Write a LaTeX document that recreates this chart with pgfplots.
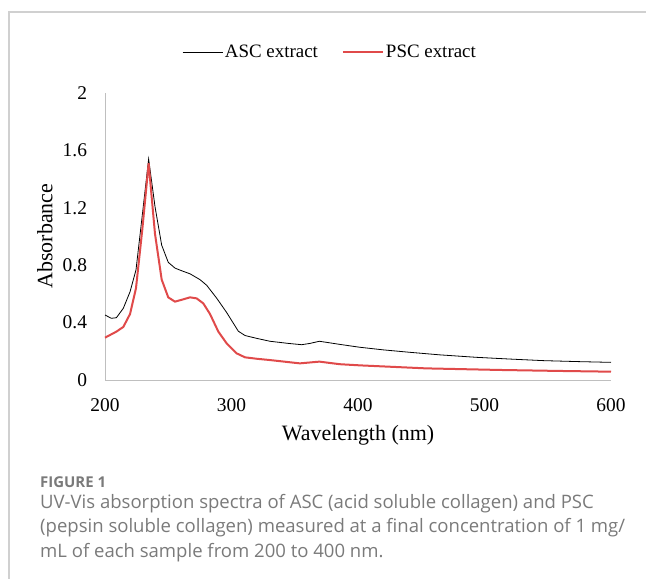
\documentclass[border=0pt]{standalone}
\usepackage{fontspec}
\setmainfont{Liberation Serif}
\newfontfamily\capfont{Open Sans}
\usepackage{pgfplots}
\pgfplotsset{compat=1.18}
\definecolor{pscred}{RGB}{224,74,74}
\definecolor{axgray}{RGB}{191,191,191}
\definecolor{framegray}{RGB}{208,208,208}
\definecolor{capgray}{RGB}{122,122,122}

\pgfplotstableread{
wl    A
200   0.453
205   0.430
209   0.434
214.5 0.500
219.8 0.615
224.5 0.767
229.5 1.150
234.5 1.540
239.5 1.210
244.8 0.940
250   0.820
255.3 0.780
261   0.760
267.2 0.740
275   0.700
280.4 0.660
288.3 0.570
296.2 0.470
305.4 0.340
310.7 0.310
320   0.290
330.4 0.270
345   0.255
355.5 0.246
362   0.255
369.5 0.270
385.8 0.248
401.6 0.228
420   0.210
441   0.193
465   0.175
493.8 0.158
520   0.146
546.5 0.135
575   0.128
600   0.123
}\asc

\pgfplotstableread{
wl    A
200   0.295
209   0.337
214.5 0.370
219.8 0.460
224.5 0.640
229.5 1.050
234.5 1.510
239.5 1.020
244.8 0.700
250   0.576
255.3 0.546
261   0.560
267.2 0.576
272.4 0.569
277.7 0.534
283   0.460
289.6 0.337
296.2 0.255
304   0.186
310.7 0.158
320   0.148
330.4 0.139
354   0.116
369.5 0.128
385.8 0.110
401.6 0.102
454   0.081
512   0.070
560   0.063
600   0.058
}\psc

\begin{document}
\begin{tikzpicture}
\path[use as bounding box] (0,0) rectangle (646bp,-579bp);
\draw[framegray, line width=1.5bp] (9bp,-579bp) -- (9bp,-12bp) -- (646bp,-12bp);

\begin{axis}[
  at={(105bp,-380bp)}, anchor=south west,
  scale only axis, width=506bp, height=287bp,
  xmin=200, xmax=600, ymin=0, ymax=2,
  xtick={200,300,400,500,600},
  ytick={0,0.4,0.8,1.2,1.6,2},
  axis lines*=left,
  axis line style={axgray, line width=1bp, -},
  major tick length=0pt,
  /pgf/number format/assume math mode=true,
  ticklabel style={font=\fontsize{19.5}{22}\selectfont},
  xticklabel style={yshift=-15bp},
  yticklabel style={xshift=-14.5bp},
  clip=false,
  legend columns=2,
  legend style={draw=none, fill=none, at={(axis description cs:0.4447,1.143)}, anchor=center,
    font=\fontsize{19}{22}\selectfont,
    /tikz/every even column/.append style={column sep=22bp}},
  legend image code/.code={\draw[#1] (-4bp,0bp) -- (36bp,0bp);},
]
\addplot[black, line width=0.8bp] table[x=wl, y=A] {\asc};
\addlegendentry{ASC extract}
\addplot[pscred, line width=2bp] table[x=wl, y=A] {\psc};
\addlegendentry{PSC extract}
\end{axis}

\node[font=\fontsize{22}{26}\selectfont] at (358bp,-435bp) {Wavelength (nm)};
\node[font=\fontsize{22}{26}\selectfont, rotate=90] at (45bp,-236bp) {Absorbance};

\node[anchor=west, inner sep=0pt, text=capgray, font=\capfont\bfseries\fontsize{15}{18}\selectfont] at (40bp,-482bp) {FIGURE 1};
\node[anchor=north west, inner sep=0pt, text=capgray, align=left,
  font=\capfont\fontsize{18.6}{24.5}\selectfont] at (40bp,-494bp)
  {UV-Vis absorption spectra of ASC (acid soluble collagen) and PSC\\
   (pepsin soluble collagen) measured at a final concentration of 1 mg/\\
   mL of each sample from 200 to 400 nm.};
\end{tikzpicture}
\end{document}
